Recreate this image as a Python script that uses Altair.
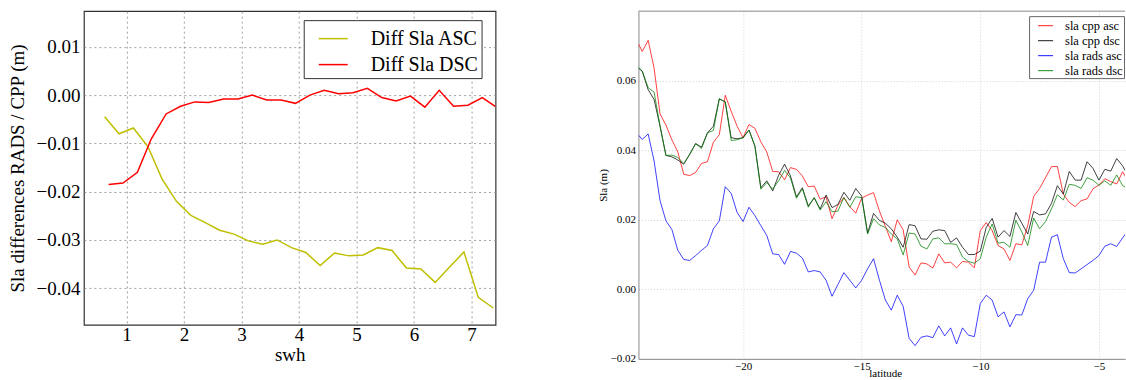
import altair as alt
import pandas as pd

FONT = "Liberation Serif"

# ---------- left panel data ----------
swh_asc = [0.62, 0.87, 1.12, 1.37, 1.62, 1.87, 2.12, 2.37, 2.62, 2.87, 3.12, 3.37, 3.62, 3.87,
           4.12, 4.37, 4.62, 4.87, 5.12, 5.37, 5.62, 5.87, 6.12, 6.37, 6.62, 6.87, 7.12, 7.38]
diff_asc = [-0.0045, -0.0080, -0.0068, -0.0106, -0.0174, -0.0220, -0.0249, -0.0264, -0.0280, -0.0288,
            -0.0302, -0.0309, -0.0300, -0.0316, -0.0326, -0.0353, -0.0327, -0.0333, -0.0331, -0.0316,
            -0.0322, -0.0358, -0.0360, -0.0388, -0.0356, -0.0325, -0.0419, -0.0441]
swh_dsc = [0.69, 0.94, 1.19, 1.43, 1.69, 1.94, 2.19, 2.43, 2.69, 2.94, 3.19, 3.44, 3.69, 3.94,
           4.19, 4.44, 4.69, 4.94, 5.19, 5.44, 5.69, 5.94, 6.19, 6.44, 6.69, 6.94, 7.19, 7.42]
diff_dsc = [-0.0185, -0.0182, -0.0160, -0.0091, -0.0039, -0.0023, -0.0014, -0.0015, -0.0008, -0.0008,
            0.0000, -0.0010, -0.0010, -0.0017, 0.0000, 0.0010, 0.0003, 0.0005, 0.0014, -0.0005,
            -0.0012, -0.0002, -0.0025, 0.0010, -0.0023, -0.0021, -0.0005, -0.0024]
left_series = ["Diff Sla ASC", "Diff Sla DSC"]
left_colors = ["#bfbf00", "#ff0000"]

# ---------- right panel data ----------
lat = [-24.4,
       -24.25, -24.0, -23.75, -23.5, -23.25, -23.0, -22.75, -22.5,
       -22.25, -22.0, -21.75, -21.5, -21.25, -21.0, -20.75, -20.5,
       -20.25, -20.0, -19.75, -19.5, -19.25, -19.0, -18.75, -18.5,
       -18.25, -18.0, -17.75, -17.5, -17.25, -17.0, -16.75, -16.5,
       -16.25, -16.0, -15.75, -15.5, -15.25, -15.0, -14.75, -14.5,
       -14.25, -14.0, -13.75, -13.5, -13.25, -13.0, -12.75, -12.5,
       -12.25, -12.0, -11.75, -11.5, -11.25, -11.0, -10.75, -10.5,
       -10.25, -10.0, -9.75, -9.5, -9.25, -9.0, -8.75, -8.5,
       -8.25, -8.0, -7.75, -7.5, -7.25, -7.0, -6.75, -6.5,
       -6.25, -6.0, -5.75, -5.5, -5.25, -5.0, -4.75, -4.5,
       -4.25, -4.0,
       -3.86]
sla_cpp_asc = [0.0705,
    0.0684, 0.0716, 0.0636, 0.0505, 0.0472, 0.0430, 0.0395, 0.0331,
    0.0327, 0.0336, 0.0362, 0.0367, 0.0423, 0.0445, 0.0558, 0.0512,
    0.0469, 0.0436, 0.0474, 0.0463, 0.0424, 0.0395, 0.0339, 0.0338,
    0.0315, 0.0350, 0.0345, 0.0326, 0.0295, 0.0297, 0.0259, 0.0266,
    0.0203, 0.0242, 0.0264, 0.0238, 0.0219, 0.0262, 0.0271, 0.0278,
    0.0225, 0.0181, 0.0137, 0.0200, 0.0171, 0.0064, 0.0041, 0.0076,
    0.0073, 0.0061, 0.0102, 0.0076, 0.0078, 0.0062, 0.0080, 0.0078,
    0.0062, 0.0169, 0.0192, 0.0169, 0.0126, 0.0116, 0.0083, 0.0131,
    0.0128, 0.0183, 0.0267, 0.0290, 0.0321, 0.0353, 0.0353, 0.0274,
    0.0250, 0.0238, 0.0255, 0.0260, 0.0289, 0.0300, 0.0318, 0.0310,
    0.0303, 0.0338,
    0.0322]
sla_cpp_dsc = [0.0636,
    0.0627, 0.0574, 0.0546, 0.0470, 0.0385, 0.0381, 0.0372, 0.0360,
    0.0388, 0.0419, 0.0409, 0.0450, 0.0469, 0.0548, 0.0539, 0.0436,
    0.0433, 0.0436, 0.0458, 0.0412, 0.0292, 0.0312, 0.0283, 0.0328,
    0.0360, 0.0326, 0.0266, 0.0292, 0.0240, 0.0263, 0.0231, 0.0271,
    0.0235, 0.0244, 0.0279, 0.0256, 0.0290, 0.0268, 0.0162, 0.0218,
    0.0198, 0.0190, 0.0174, 0.0150, 0.0121, 0.0186, 0.0183, 0.0145,
    0.0144, 0.0167, 0.0171, 0.0169, 0.0135, 0.0148, 0.0121, 0.0100,
    0.0100, 0.0110, 0.0178, 0.0204, 0.0150, 0.0169, 0.0152, 0.0221,
    0.0190, 0.0159, 0.0224, 0.0214, 0.0217, 0.0247, 0.0298, 0.0274,
    0.0339, 0.0314, 0.0314, 0.0367, 0.0348, 0.0314, 0.0345, 0.0340,
    0.0376, 0.0355,
    0.0338]
sla_rads_asc = [0.0443,
    0.0431, 0.0447, 0.0369, 0.0255, 0.0197, 0.0172, 0.0112, 0.0086,
    0.0083, 0.0097, 0.0112, 0.0126, 0.0174, 0.0197, 0.0295, 0.0276,
    0.0221, 0.0195, 0.0236, 0.0212, 0.0183, 0.0155, 0.0102, 0.0100,
    0.0072, 0.0109, 0.0104, 0.0090, 0.0050, 0.0054, 0.0050, 0.0026,
    -0.0020, 0.0014, 0.0048, 0.0026, 0.0004, 0.0026, 0.0059, 0.0088,
    0.0026, -0.0031, -0.0060, -0.0017, -0.0049, -0.0141, -0.0162, -0.0138,
    -0.0134, -0.0139, -0.0105, -0.0134, -0.0111, -0.0157, -0.0111, -0.0132,
    -0.0136, -0.0041, -0.0017, -0.0031, -0.0079, -0.0065, -0.0108, -0.0073,
    -0.0074, -0.0027, -0.0003, 0.0078, 0.0078, 0.0150, 0.0157, 0.0088,
    0.0048, 0.0047, 0.0059, 0.0071, 0.0083, 0.0097, 0.0124, 0.0131,
    0.0123, 0.0148,
    0.0161]
sla_rads_dsc = [0.0638,
    0.0628, 0.0580, 0.0567, 0.0470, 0.0385, 0.0386, 0.0379, 0.0362,
    0.0388, 0.0419, 0.0405, 0.0450, 0.0457, 0.0548, 0.0539, 0.0428,
    0.0430, 0.0436, 0.0458, 0.0412, 0.0288, 0.0307, 0.0288, 0.0312,
    0.0342, 0.0320, 0.0262, 0.0289, 0.0236, 0.0264, 0.0228, 0.0252,
    0.0223, 0.0225, 0.0264, 0.0236, 0.0266, 0.0264, 0.0159, 0.0203,
    0.0185, 0.0178, 0.0159, 0.0145, 0.0099, 0.0162, 0.0159, 0.0124,
    0.0116, 0.0145, 0.0148, 0.0131, 0.0131, 0.0129, 0.0093, 0.0080,
    0.0075, 0.0088, 0.0150, 0.0188, 0.0133, 0.0135, 0.0121, 0.0199,
    0.0165, 0.0126, 0.0205, 0.0174, 0.0195, 0.0231, 0.0272, 0.0257,
    0.0302, 0.0299, 0.0290, 0.0321, 0.0314, 0.0299, 0.0312, 0.0299,
    0.0329, 0.0298,
    0.0293]
right_series = ["sla cpp asc", "sla cpp dsc", "sla rads asc", "sla rads dsc"]
right_colors = ["#ff0000", "#000000", "#0000ff", "#008000"]

# ---------- tables ----------
left_df = pd.concat([
    pd.DataFrame({"swh": swh_asc, "diff": diff_asc, "series": left_series[0], "order": range(len(swh_asc))}),
    pd.DataFrame({"swh": swh_dsc, "diff": diff_dsc, "series": left_series[1], "order": range(len(swh_dsc))}),
])
right_df = pd.concat([
    pd.DataFrame({"lat": lat, "sla": vals, "series": name, "order": range(len(lat))})
    for name, vals in zip(right_series, [sla_cpp_asc, sla_cpp_dsc, sla_rads_asc, sla_rads_dsc])
])

LW, LH = 412, 314
RW, RH = 487, 348

left = alt.Chart(left_df).mark_line(strokeWidth=1.5, clip=True).encode(
    x=alt.X("swh:Q",
            scale=alt.Scale(domain=[0.26, 7.42], nice=False, zero=False),
            axis=alt.Axis(values=[1, 2, 3, 4, 5, 6, 7], format="d", title="swh",
                          grid=True, gridDash=[2, 3], gridColor="#888888", gridWidth=0.8,
                          ticks=False, domain=False, labelPadding=1,
                          labelFont=FONT, labelFontSize=19, labelColor="#000000",
                          titleFont=FONT, titleFontSize=19, titleColor="#000000",
                          titleFontWeight="normal", titleBaseline="alphabetic", titleY=36,
                          labelFlush=False, labelOverlap=False)),
    y=alt.Y("diff:Q",
            scale=alt.Scale(domain=[-0.0476, 0.0174], nice=False, zero=False),
            axis=alt.Axis(values=[-0.04, -0.03, -0.02, -0.01, 0.0, 0.01], format=".2f",
                          title="Sla differences RADS / CPP (m)",
                          grid=True, gridDash=[2, 3], gridColor="#888888", gridWidth=0.8,
                          ticks=False, domain=False, labelPadding=4,
                          labelFont=FONT, labelFontSize=19, labelColor="#000000",
                          titleFont=FONT, titleFontSize=19, titleColor="#000000",
                          titleFontWeight="normal", titleBaseline="middle", titleX=-66,
                          labelFlush=False, labelOverlap=False)),
    color=alt.Color("series:N",
                    scale=alt.Scale(domain=left_series, range=left_colors),
                    legend=alt.Legend(title=None, orient="none", legendX=220, legendY=9,
                                      labelFont=FONT, labelFontSize=20, labelColor="#000000",
                                      symbolType="stroke", symbolSize=841, symbolStrokeWidth=1.5,
                                      symbolOffset=11, labelOffset=22, rowPadding=0, padding=3,
                                      strokeColor="#333333", fillColor="#ffffff",
                                      cornerRadius=0)),
    order="order:Q",
).properties(width=LW, height=LH,
             view=alt.ViewBackground(stroke="#333333", strokeWidth=1.2))

right_lines = alt.Chart(right_df).mark_line(strokeWidth=1, opacity=0.75, clip=True).encode(
    x=alt.X("lat:Q",
            scale=alt.Scale(domain=[-24.41, -3.9], nice=False, zero=False),
            axis=alt.Axis(values=[-20, -15, -10, -5], format="d", title="latitude",
                          grid=True, gridDash=[1, 2], gridColor="#c8c8c8", gridWidth=0.8,
                          ticks=False, domain=True, domainColor="#888888", domainWidth=1,
                          labelPadding=2,
                          labelFont=FONT, labelFontSize=11, labelColor="#000000",
                          titleFont=FONT, titleFontSize=11, titleColor="#000000",
                          titleFontWeight="normal", titleBaseline="alphabetic", titleY=18,
                          titleX=247,
                          labelFlush=False, labelOverlap=False)),
    y=alt.Y("sla:Q",
            scale=alt.Scale(domain=[-0.02, 0.08], nice=False, zero=False),
            axis=alt.Axis(values=[-0.02, 0.0, 0.02, 0.04, 0.06], format=".2f", title="Sla (m)",
                          grid=True, gridDash=[1, 2], gridColor="#c8c8c8", gridWidth=0.8,
                          ticks=False, domain=True, domainColor="#888888", domainWidth=1,
                          labelPadding=3,
                          labelFont=FONT, labelFontSize=11, labelColor="#000000",
                          titleFont=FONT, titleFontSize=11, titleColor="#000000",
                          titleFontWeight="normal", titleBaseline="middle", titleX=-35,
                          labelFlush=False, labelOverlap=False)),
    color=alt.Color("series:N",
                    scale=alt.Scale(domain=right_series, range=right_colors),
                    legend=alt.Legend(title=None, orient="none", legendX=391, legendY=5,
                                      labelFont=FONT, labelFontSize=12.5, labelColor="#000000",
                                      symbolType="stroke", symbolSize=225, symbolStrokeWidth=1.2,
                                      symbolOpacity=0.75, symbolOffset=7,
                                      labelOffset=11, rowPadding=0, padding=1,
                                      strokeColor="#666666", fillColor="#ffffff",
                                      cornerRadius=0)),
    order="order:Q",
)

top_border = alt.Chart(pd.DataFrame({"k": [0]})).mark_rule(color="#888888", strokeWidth=1).encode(
    x=alt.value(0), x2=alt.value(RW), y=alt.value(0)
)

right = alt.layer(right_lines, top_border).properties(
    width=RW, height=RH, view=alt.ViewBackground(strokeOpacity=0)
)

chart = alt.hconcat(left, right, spacing=101).resolve_scale(color="independent").properties(
    padding={"left": 8, "top": 10, "right": 0, "bottom": 0},
    background="#ffffff",
)

chart.save("out.html", embed_options={"renderer": "svg", "actions": False})
